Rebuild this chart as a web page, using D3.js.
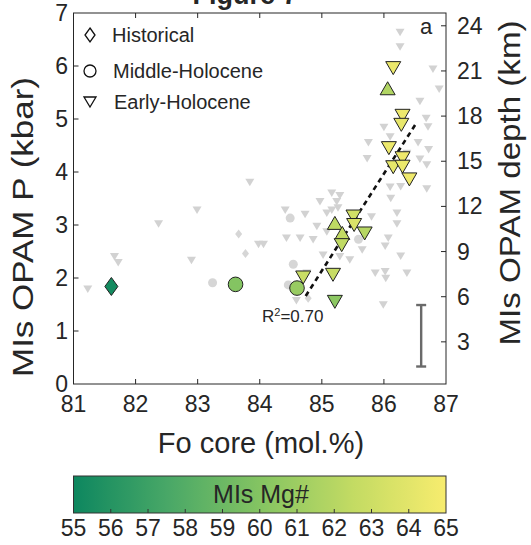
<!DOCTYPE html>
<html>
<head>
<meta charset="utf-8">
<script src="https://cdn.jsdelivr.net/npm/d3@7"></script>
<style>
  body { margin: 0; background: #fff; }
  text { font-family: "Liberation Sans", Arial, sans-serif; fill: #262626; }
</style>
</head>
<body>
<script>
// ticks
const foTicks = [81, 82, 83, 84, 85, 86, 87];
const pTicks = [0, 1, 2, 3, 4, 5, 6, 7];
const depthTicks = [3, 6, 9, 12, 15, 18, 21, 24];
const mgTicks = [55, 56, 57, 58, 59, 60, 61, 62, 63, 64, 65];

// coloured samples: Fo core, OPAM P (kbar), MIs Mg#
const historical = [
    {fo: 81.61, p: 1.84, mg: 55.3}
];
const middleHolocene = [
    {fo: 83.61, p: 1.88, mg: 60.0},
    {fo: 84.60, p: 1.81, mg: 60.8}
];
const earlyHolocene = [
    {fo: 86.15, p: 5.96, mg: 64.4, up: false},
    {fo: 86.06, p: 5.58, mg: 61.8, up: true},
    {fo: 86.30, p: 5.06, mg: 64.5, up: false},
    {fo: 86.28, p: 4.89, mg: 64.3, up: false},
    {fo: 86.08, p: 4.45, mg: 64.5, up: false},
    {fo: 86.30, p: 4.26, mg: 64.6, up: false},
    {fo: 86.15, p: 4.09, mg: 64.2, up: false},
    {fo: 86.30, p: 4.10, mg: 64.4, up: false},
    {fo: 86.41, p: 3.86, mg: 64.6, up: false},
    {fo: 85.69, p: 2.84, mg: 62.0, up: false},
    {fo: 85.51, p: 3.16, mg: 63.2, up: false},
    {fo: 85.52, p: 3.00, mg: 63.6, up: false},
    {fo: 85.21, p: 3.04, mg: 62.3, up: true},
    {fo: 85.33, p: 2.85, mg: 62.5, up: true},
    {fo: 85.32, p: 2.62, mg: 62.4, up: false},
    {fo: 85.18, p: 2.06, mg: 62.7, up: false},
    {fo: 84.70, p: 2.01, mg: 62.8, up: false},
    {fo: 85.21, p: 1.55, mg: 60.3, up: false}
];

// grey background samples [Fo, P]
const greyTriangles = [
    [86.26, 6.63], [86.26, 6.36], [86.79, 5.94], [86.89, 5.56], [86.58, 5.33],
    [86.00, 4.84], [86.71, 4.85], [86.68, 5.01], [85.75, 4.55], [86.10, 4.66],
    [86.55, 4.55], [86.72, 4.42], [86.58, 4.24], [86.69, 4.13], [85.73, 4.25],
    [86.37, 4.35], [86.10, 3.71], [86.11, 3.50], [86.27, 3.72], [86.69, 3.68],
    [86.21, 3.22], [85.80, 3.15], [86.21, 3.02], [85.16, 3.60], [85.29, 3.55],
    [84.97, 3.44], [85.24, 3.44], [85.16, 3.28], [85.26, 3.32], [84.41, 3.28],
    [84.73, 3.20], [85.08, 3.22], [84.43, 2.75], [84.65, 2.75], [84.86, 2.72],
    [84.92, 2.97], [85.08, 2.87], [86.02, 2.60], [86.07, 2.75], [85.65, 2.53],
    [86.27, 2.41], [85.45, 2.34], [85.29, 2.40], [85.02, 2.43], [83.84, 3.80],
    [82.99, 3.28], [82.37, 3.02], [83.98, 2.63], [84.06, 2.63], [81.66, 2.40],
    [81.72, 2.29], [82.90, 2.33], [81.23, 1.79], [84.76, 2.09], [84.59, 1.57],
    [85.86, 2.09], [86.02, 2.12], [86.03, 1.99], [86.37, 2.09], [85.99, 1.49]
];
const greyCircles = [
    [84.49, 3.13], [85.59, 2.73], [84.54, 2.26], [83.24, 1.91], [84.46, 1.87]
];
const greyDiamonds = [
    [83.66, 2.83], [83.77, 2.46], [84.78, 1.62]
];

// regression line and OPAM uncertainty bar
const fitLine = [[84.74, 1.66], [86.52, 4.92]];
const rSquared = "0.70";
const errBar = {fo: 86.6, p: 0.91, err: 0.58};

// colormap (MIs Mg#)
const cmapValues = [55, 57.5, 60, 62.5, 65];
const cmapColors = ["#0d875f", "#48a767", "#84c462", "#c3db63", "#f7ec6e"];

const legendItems = ["Historical", "Middle-Holocene", "Early-Holocene"];


const W = 531, H = 545;
const pLeft = 73.5, pRight = 446, pTop = 13, pBottom = 384;

const svg = d3.select("body").append("svg")
    .attr("width", W)
    .attr("height", H);

const x = d3.scaleLinear().domain([81, 87]).range([pLeft, pRight]);
const y = d3.scaleLinear().domain([0, 7]).range([pBottom, pTop]);
const yDepth = d3.scaleLinear().domain([0.2, 24.85]).range([pBottom, pTop]);
const colour = d3.scaleLinear().domain(cmapValues).range(cmapColors);

function triPath(w, h, up) {
    let a = w / 2, b = h / 2;
    return up ? `M${-a},${b}L${a},${b}L0,${-b}Z` : `M${-a},${-b}L${a},${-b}L0,${b}Z`;
}
function diamondPath(w, h) {
    let a = w / 2, b = h / 2;
    return `M0,${-b}L${a},0L0,${b}L${-a},0Z`;
}

// title (clipped at the top in the original)
svg.append("text")
    .attr("x", 245)
    .attr("y", 4)
    .attr("text-anchor", "middle")
    .style("font-size", "27px")
    .style("font-weight", "bold")
    .text("Figure 7");

// grey background
let grey = svg.append("g").attr("class", "grey");
grey.selectAll("path.gt")
    .data(greyTriangles)
    .enter()
    .append("path")
    .attr("class", "gt")
    .attr("d", triPath(9, 7.5, false))
    .attr("transform", d => `translate(${x(d[0])},${y(d[1])})`)
    .attr("fill", "#d2d2d2");
grey.selectAll("circle")
    .data(greyCircles)
    .enter()
    .append("circle")
    .attr("cx", d => x(d[0]))
    .attr("cy", d => y(d[1]))
    .attr("r", 4.5)
    .attr("fill", "#d6d6d6");
grey.selectAll("path.gd")
    .data(greyDiamonds)
    .enter()
    .append("path")
    .attr("class", "gd")
    .attr("d", diamondPath(7, 9))
    .attr("transform", d => `translate(${x(d[0])},${y(d[1])})`)
    .attr("fill", "#d6d6d6");

// regression
svg.append("line")
    .attr("x1", x(fitLine[0][0]))
    .attr("y1", y(fitLine[0][1]))
    .attr("x2", x(fitLine[1][0]))
    .attr("y2", y(fitLine[1][1]))
    .attr("stroke", "#111")
    .attr("stroke-width", 2.6)
    .attr("stroke-dasharray", "5,4");

let r2 = svg.append("text")
    .attr("x", 262)
    .attr("y", 322)
    .style("font-size", "17px");
r2.append("tspan").text("R");
r2.append("tspan").attr("dy", -6).style("font-size", "11px").text("2");
r2.append("tspan").attr("dy", 6).text("=" + rSquared);

// coloured markers
let marks = svg.append("g").attr("class", "marks");
marks.selectAll("path.hist")
    .data(historical)
    .enter()
    .append("path")
    .attr("class", "hist")
    .attr("d", diamondPath(13, 18))
    .attr("transform", d => `translate(${x(d.fo)},${y(d.p)})`)
    .attr("fill", d => colour(d.mg))
    .attr("stroke", "#222")
    .attr("stroke-width", 1);
marks.selectAll("circle")
    .data(middleHolocene)
    .enter()
    .append("circle")
    .attr("cx", d => x(d.fo))
    .attr("cy", d => y(d.p))
    .attr("r", 7.3)
    .attr("fill", d => colour(d.mg))
    .attr("stroke", "#222")
    .attr("stroke-width", 1);
marks.selectAll("path.early")
    .data(earlyHolocene)
    .enter()
    .append("path")
    .attr("class", "early")
    .attr("d", d => triPath(15, 13, d.up))
    .attr("transform", d => `translate(${x(d.fo)},${y(d.p)})`)
    .attr("fill", d => colour(d.mg))
    .attr("stroke", "#222")
    .attr("stroke-width", 1);

// uncertainty bar
let eb = svg.append("g")
    .attr("stroke", "#6a6a6a")
    .attr("stroke-width", 2.4);
eb.append("line")
    .attr("x1", x(errBar.fo)).attr("x2", x(errBar.fo))
    .attr("y1", y(errBar.p + errBar.err)).attr("y2", y(errBar.p - errBar.err));
[errBar.p + errBar.err, errBar.p - errBar.err].forEach(function (v) {
    eb.append("line")
        .attr("x1", x(errBar.fo) - 5).attr("x2", x(errBar.fo) + 5)
        .attr("y1", y(v)).attr("y2", y(v));
});

// legend
let lg = svg.append("g").attr("class", "legend");
let legendY = [35, 71, 102];
let legendShapes = [diamondPath(10, 14), null, triPath(12, 10, false)];
legendItems.forEach(function (name, i) {
    if (i === 1) {
        lg.append("circle")
            .attr("cx", 90).attr("cy", legendY[i]).attr("r", 6)
            .attr("fill", "none").attr("stroke", "#111").attr("stroke-width", 1.3);
    } else {
        lg.append("path")
            .attr("d", legendShapes[i])
            .attr("transform", `translate(90,${legendY[i]})`)
            .attr("fill", "none").attr("stroke", "#111").attr("stroke-width", 1.3);
    }
    lg.append("text")
        .attr("x", 112 + i)
        .attr("y", legendY[i] + 7)
        .style("font-size", "20px")
        .text(name);
});

svg.append("text")
    .attr("x", 420)
    .attr("y", 34)
    .style("font-size", "22px")
    .text("a");

// axes box
let axes = svg.append("g")
    .attr("stroke", "#262626")
    .attr("stroke-width", 1);
axes.append("rect")
    .attr("x", pLeft).attr("y", pTop)
    .attr("width", pRight - pLeft).attr("height", pBottom - pTop)
    .attr("fill", "none");

const tl = 5;
axes.selectAll("line.xb")
    .data(foTicks.slice(1, -1))
    .enter()
    .append("line")
    .attr("x1", d => x(d)).attr("x2", d => x(d))
    .attr("y1", pBottom).attr("y2", pBottom - tl);
axes.selectAll("line.xt")
    .data(foTicks.slice(1, -1))
    .enter()
    .append("line")
    .attr("x1", d => x(d)).attr("x2", d => x(d))
    .attr("y1", pTop).attr("y2", pTop + tl);
axes.selectAll("line.yl")
    .data(pTicks.slice(1, -1))
    .enter()
    .append("line")
    .attr("x1", pLeft).attr("x2", pLeft + tl)
    .attr("y1", d => y(d)).attr("y2", d => y(d));
axes.selectAll("line.yr")
    .data(depthTicks)
    .enter()
    .append("line")
    .attr("x1", pRight).attr("x2", pRight - tl)
    .attr("y1", d => yDepth(d)).attr("y2", d => yDepth(d));

svg.selectAll("text.xl")
    .data(foTicks)
    .enter()
    .append("text")
    .attr("x", d => x(d))
    .attr("y", 412)
    .attr("text-anchor", "middle")
    .style("font-size", "23px")
    .text(d => d);
svg.selectAll("text.yl")
    .data(pTicks)
    .enter()
    .append("text")
    .attr("x", 68)
    .attr("y", d => y(d) + 8)
    .attr("text-anchor", "end")
    .style("font-size", "23px")
    .text(d => d);
svg.selectAll("text.yr")
    .data(depthTicks)
    .enter()
    .append("text")
    .attr("x", 457)
    .attr("y", d => yDepth(d) + 8)
    .style("font-size", "23px")
    .text(d => d);

svg.append("text")
    .attr("x", 261)
    .attr("y", 453)
    .attr("text-anchor", "middle")
    .style("font-size", "29px")
    .text("Fo core (mol.%)");
svg.append("text")
    .attr("transform", "translate(33,227) rotate(-90)")
    .attr("text-anchor", "middle")
    .attr("textLength", 300)
    .attr("lengthAdjust", "spacingAndGlyphs")
    .style("font-size", "29px")
    .text("MIs OPAM P (kbar)");
svg.append("text")
    .attr("transform", "translate(520,183) rotate(-90)")
    .attr("text-anchor", "middle")
    .attr("textLength", 325)
    .attr("lengthAdjust", "spacingAndGlyphs")
    .style("font-size", "29px")
    .text("MIs OPAM depth (km)");

// colorbar
const cbTop = 476, cbBottom = 513;
const cx = d3.scaleLinear().domain([55, 65]).range([pLeft, pRight]);
let grad = svg.append("defs").append("linearGradient")
    .attr("id", "mgGrad")
    .attr("x1", "0%").attr("x2", "100%")
    .attr("y1", "0%").attr("y2", "0%");
d3.range(0, 21).forEach(function (i) {
    let v = 55 + i * 0.5;
    grad.append("stop")
        .attr("offset", (i / 20 * 100) + "%")
        .attr("stop-color", colour(v));
});
svg.append("rect")
    .attr("x", pLeft).attr("y", cbTop)
    .attr("width", pRight - pLeft).attr("height", cbBottom - cbTop)
    .attr("fill", "url(#mgGrad)")
    .attr("stroke", "#333")
    .attr("stroke-width", 1);
svg.selectAll("line.cb")
    .data(mgTicks.slice(1, -1))
    .enter()
    .append("line")
    .attr("x1", d => cx(d)).attr("x2", d => cx(d))
    .attr("y1", cbBottom).attr("y2", cbBottom - 4)
    .attr("stroke", "#333");
svg.append("text")
    .attr("x", 261)
    .attr("y", 503)
    .attr("text-anchor", "middle")
    .style("font-size", "25px")
    .text("MIs Mg#");
svg.selectAll("text.cb")
    .data(mgTicks)
    .enter()
    .append("text")
    .attr("x", d => cx(d))
    .attr("y", 536)
    .attr("text-anchor", "middle")
    .style("font-size", "23px")
    .text(d => d);
</script>
</body>
</html>
